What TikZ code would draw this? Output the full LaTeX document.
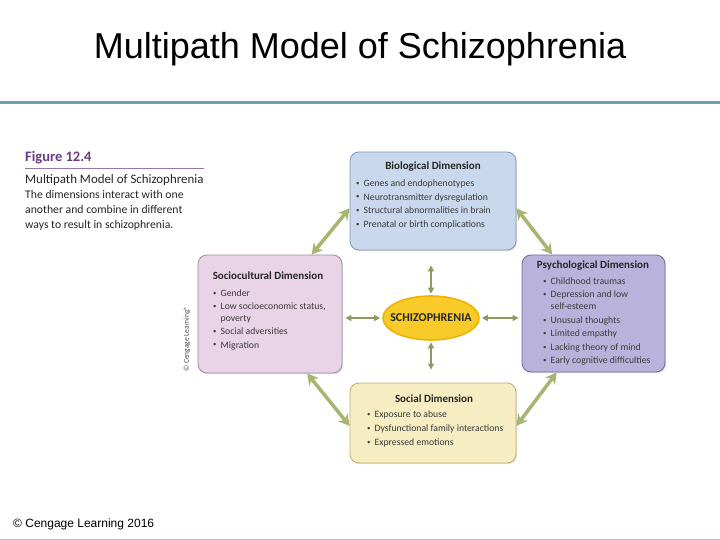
\documentclass[tikz,border=0pt]{standalone}
\usepackage{fontspec}
\setmainfont{Liberation Sans}
\newfontfamily\figfont{Carlito}
\usetikzlibrary{arrows.meta,shapes.geometric,calc,shadows}
\definecolor{rule}{HTML}{6AA2B2}
\definecolor{figpurple}{HTML}{6B3A87}
\definecolor{biofill}{HTML}{C9D8EC}\definecolor{biodraw}{HTML}{8198B8}
\definecolor{socfill}{HTML}{E9D3E6}\definecolor{socdraw}{HTML}{A58BA0}
\definecolor{psyfill}{HTML}{B9B3DC}\definecolor{psydraw}{HTML}{6F66A6}
\definecolor{solfill}{HTML}{F6EDC2}\definecolor{soldraw}{HTML}{C4AE72}
\definecolor{szfill}{HTML}{F8CA2A}\definecolor{szdraw}{HTML}{EEB300}
\definecolor{arrowgreen}{HTML}{A6B56F}
\definecolor{boxtext}{HTML}{3A3A3A}
\newcommand{\bitem}[1]{\makebox[7.5pt][l]{\raisebox{0.3ex}{\scalebox{0.7}{\textbullet}}}#1}
\newcommand{\bcont}[1]{\hspace*{7.5pt}#1}
\tikzset{
  dimbox/.style={draw, line width=0.8pt, rounded corners=9pt, inner sep=0pt,
    drop shadow={shadow xshift=1pt, shadow yshift=-1.2pt, opacity=0.25}},
  boxtitle/.style={font=\figfont\bfseries\fontsize{11}{13}\selectfont, text=black!85, inner sep=0pt},
  boxlist/.style={font=\figfont\fontsize{9.7}{13.7}\selectfont, text=boxtext, align=left, inner sep=0pt, anchor=north west},
  bigarrow/.style={arrowgreen, line width=3.5pt, {Stealth[length=11pt,width=12pt]}-{Stealth[length=11pt,width=12pt]}},
  smallarrow/.style={arrowgreen!85!black, line width=1.3pt, {Triangle[length=6pt,width=6pt]}-{Triangle[length=6pt,width=6pt]}},
}
\begin{document}
\begin{tikzpicture}[x=1pt,y=-1pt]
\useasboundingbox (0,0) rectangle (720,540);
\fill[white] (0,0) rectangle (720,540);
% slide title and rule
\node[font=\fontsize{36}{40}\selectfont, inner sep=0pt] (title) at (360,49) {Multipath Model of Schizophrenia};
\fill[rule] (0,101) rectangle (720,104);
\node[font=\fontsize{12}{14}\selectfont, anchor=west, inner sep=0pt] (copy) at (13,524) {© Cengage Learning 2016};
\fill[rule!60] (0,538.8) rectangle (720,540);

% figure caption
\node[font=\figfont\bfseries\fontsize{14.5}{16}\selectfont, text=figpurple, anchor=west, inner sep=0pt] (fig) at (25,158) {Figure 12.4};
\draw[figpurple!70, line width=0.8pt] (25,168) -- (204,168);
\node[font=\figfont\fontsize{12.9}{15}\selectfont, text=black!85, anchor=west, inner sep=0pt] (figtitle) at (25,180.5) {Multipath Model of Schizophrenia};
\node[font=\figfont\fontsize{11.7}{15}\selectfont, text=black!85, anchor=north west, align=left, inner sep=0pt] (figdesc) at (25,190.5) {The dimensions interact with one\\another and combine in different\\ways to result in schizophrenia.};

% vertical credit
\node[font=\figfont\fontsize{7.5}{8}\selectfont, text=black!70, rotate=90, inner sep=0pt] (credit) at (187,339) {© Cengage Learning®};

% boxes
\node[dimbox, fill=biofill, draw=biodraw, minimum width=166pt, minimum height=98pt] (bio) at (433,201) {};
\node[dimbox, fill=socfill, draw=socdraw, minimum width=144pt, minimum height=118pt] (socio) at (270,314) {};
\node[dimbox, fill=psyfill, draw=psydraw, minimum width=143pt, minimum height=117pt] (psych) at (593.5,313.5) {};
\node[dimbox, fill=solfill, draw=soldraw, minimum width=166pt, minimum height=80pt] (social) at (433,423) {};

% box texts
\node[boxtitle] (biot) at (433,167) {Biological Dimension};
\node[boxlist] (biol) at (356,179.5) {\bitem{Genes and endophenotypes}\\\bitem{Neurotransmitter dysregulation}\\\bitem{Structural abnormalities in brain}\\\bitem{Prenatal or birth complications}};

\node[boxtitle] (sociot) at (268,276) {Sociocultural Dimension};
\node[boxlist, font=\figfont\fontsize{9.7}{13.3}\selectfont] (sociol) at (213,289.5) {\bitem{Gender}\\\bitem{Low socioeconomic status,}\\[-1.5pt]\bcont{poverty}\\\bitem{Social adversities}\\\bitem{Migration}};

\node[boxtitle] (psycht) at (593,266) {Psychological Dimension};
\node[boxlist, font=\figfont\fontsize{9.7}{13.5}\selectfont] (psychl) at (543,277.5) {\bitem{Childhood traumas}\\\bitem{Depression and low}\\[-1.5pt]\bcont{self-esteem}\\\bitem{Unusual thoughts}\\\bitem{Limited empathy}\\\bitem{Lacking theory of mind}\\\bitem{Early cognitive difficulties}};

\node[boxtitle] (socialt) at (434,399) {Social Dimension};
\node[boxlist, font=\figfont\fontsize{9.7}{14}\selectfont] (sociall) at (367,410.5) {\bitem{Exposure to abuse}\\\bitem{Dysfunctional family interactions}\\\bitem{Expressed emotions}};

% centre
\node[ellipse, fill=szfill, draw=szdraw, line width=1.6pt, minimum width=96pt, minimum height=44pt, inner sep=0pt] (schizo) at (431,318) {};
\node[font=\figfont\bfseries\fontsize{12}{14}\selectfont, text=black!85, inner sep=0pt] (schizot) at (schizo.center) {SCHIZOPHRENIA};

% diagonal arrows
\draw[bigarrow] (bio.185) -- (socio.55);
\draw[bigarrow] (bio.-5) -- (psych.125);
\draw[bigarrow] (socio.-58) -- (social.182);
\draw[bigarrow] (psych.238) -- (social.-2);

% centre arrows
\draw[smallarrow, shorten <=15pt, shorten >=1.5pt] (schizo.north |- bio.south) -- (schizo.north);
\draw[smallarrow, shorten <=1.5pt, shorten >=13pt] (schizo.south) -- (schizo.south |- social.north);
\draw[smallarrow, shorten <=3pt, shorten >=2pt] (schizo.west -| socio.east) -- (schizo.west);
\draw[smallarrow, shorten <=2pt, shorten >=3pt] (schizo.east) -- (schizo.east -| psych.west);
\end{tikzpicture}
\end{document}
